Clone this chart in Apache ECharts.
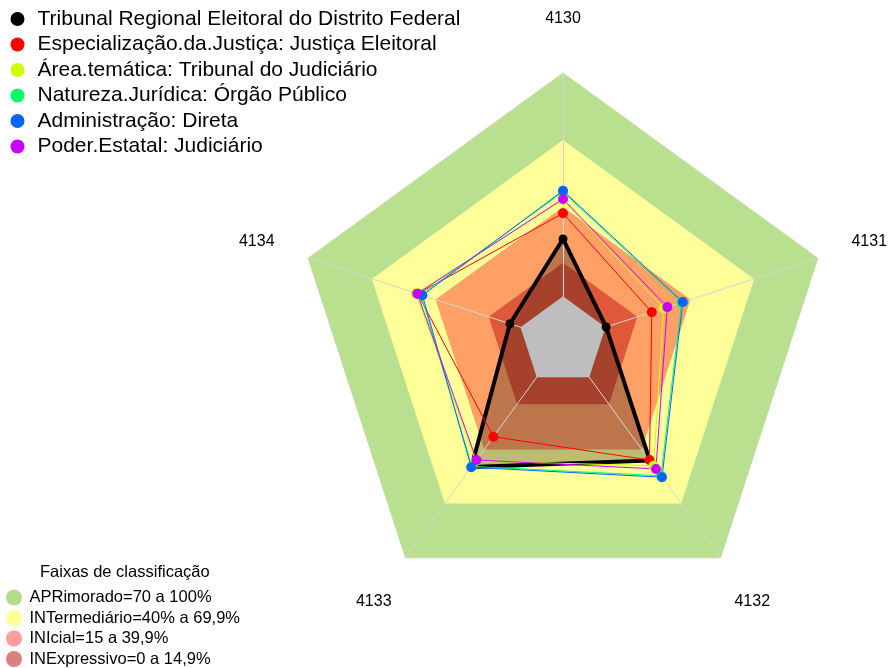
<!DOCTYPE html>
<html>
<head>
<meta charset="utf-8">
<script src="https://cdn.jsdelivr.net/npm/echarts@6/dist/echarts.min.js"></script>
<style>
  html, body { margin: 0; padding: 0; background: #fff; }
  #chart { width: 889px; height: 668px; }
</style>
</head>
<body>
<div id="chart"></div>
<script>
// indicadores no sentido horário, a partir do topo
const indicadores = ['4130', '4131', '4132', '4133', '4134'];

// séries (valores em %, na ordem dos indicadores)
const nomesSeries = [
  'Tribunal Regional Eleitoral do Distrito Federal',
  'Especialização.da.Justiça: Justiça Eleitoral',
  'Área.temática: Tribunal do Judiciário',
  'Natureza.Jurídica: Órgão Público',
  'Administração: Direta',
  'Poder.Estatal: Judiciário'
];
const coresSeries = ['#000000', '#ff0000', '#ccff00', '#00ff66', '#0066ff', '#cc00ff'];
const tre = [25.7, 0.3, 46.1, 49.8, 5.0];
const especializacao = [37.2, 21.8, 45.9, 33.0, 48.4];
const areaTematica = [43.2, 27.4, 49.0, 46.5, 49.2];
const natureza = [46.8, 35.8, 54.6, 49.4, 46.9];
const administracao = [47.3, 36.4, 55.4, 49.9, 46.2];
const poder = [43.6, 29.1, 50.8, 45.9, 48.6];
const valoresSeries = [tre, especializacao, areaTematica, natureza, administracao, poder];

// faixas de classificação (limite superior de cada faixa)
const faixasNomes = [
  'APRimorado=70 a 100%',
  'INTermediário=40% a 69,9%',
  'INIcial=15 a 39,9%',
  'INExpressivo=0 a 14,9%'
];
const faixasLimites = [100, 70, 40, 15];
const faixasCores = ['#b9e08e', '#ffff99', '#ffa066', '#e0583a'];
const faixasCoresLegenda = ['#b3dd8a', '#ffff99', '#ff9c9c', '#d98080'];
const limiteCentro = 0;
const eixoMin = -20;
const eixoMax = 100;

// echarts desenha os eixos no sentido anti-horário
const ordem = [0, 4, 3, 2, 1];
const paraRadar = arr => ordem.map(i => arr[i]);
const constante = v => indicadores.map(() => v);

const chart = echarts.init(document.getElementById('chart'));

const series = [];

// faixas de fundo
faixasLimites.forEach((lim, i) => {
  series.push({
    type: 'radar',
    name: faixasNomes[i],
    z: 1,
    silent: true,
    symbol: 'none',
    color: faixasCoresLegenda[i],
    lineStyle: i === 0 ? { width: 1, color: '#d4d4d4' } : { width: 0, opacity: 0 },
    areaStyle: { color: faixasCores[i], opacity: 1 },
    data: [{ value: paraRadar(constante(lim)) }]
  });
});

// preenchimento translúcido do TRE-DF
series.push({
  type: 'radar',
  name: 'preenchimento',
  z: 2,
  silent: true,
  symbol: 'none',
  lineStyle: { width: 0, opacity: 0 },
  areaStyle: { color: 'rgba(0,0,0,0.26)', opacity: 1 },
  data: [{ value: paraRadar(tre) }]
});

// miolo cinza (abaixo de zero)
series.push({
  type: 'radar',
  name: 'centro',
  z: 4,
  silent: true,
  symbol: 'none',
  lineStyle: { width: 0, opacity: 0 },
  areaStyle: { color: '#bebebe', opacity: 1 },
  data: [{ value: paraRadar(constante(limiteCentro)) }]
});

// linhas das séries
valoresSeries.forEach((vals, i) => {
  series.push({
    type: 'radar',
    name: nomesSeries[i],
    z: 5,
    color: coresSeries[i],
    symbol: 'circle',
    symbolSize: i === 0 ? 9 : 10,
    lineStyle: { width: i === 0 ? 4 : 1, color: coresSeries[i] },
    itemStyle: { color: coresSeries[i], borderWidth: 0 },
    data: [{ value: paraRadar(vals) }]
  });
});

const option = {
  animation: false,
  title: {
    text: 'Faixas de classificação',
    left: 40,
    top: 564,
    padding: 0,
    textStyle: { fontFamily: 'Liberation Sans', fontSize: 16.5, fontWeight: 'normal', color: '#000' }
  },
  legend: [
    {
      data: nomesSeries,
      orient: 'vertical',
      left: 10.5,
      top: 8.5,
      padding: 0,
      itemGap: 4.5,
      itemWidth: 30,
      itemHeight: 14,
      icon: 'circle',
      selectedMode: false,
      textStyle: { fontFamily: 'Liberation Sans', fontSize: 21, color: '#000' }
    },
    {
      data: faixasNomes.map((n, i) => ({ name: n, itemStyle: { color: faixasCoresLegenda[i] } })),
      orient: 'vertical',
      left: 6,
      top: 589,
      padding: 0,
      itemGap: 3.5,
      itemWidth: 21,
      itemHeight: 16,
      icon: 'circle',
      selectedMode: false,
      textStyle: { fontFamily: 'Liberation Sans', fontSize: 16.5, color: '#000' }
    }
  ],
  radar: {
    z: 3,
    center: [563, 341],
    radius: 268,
    shape: 'polygon',
    startAngle: 90,
    indicator: paraRadar(indicadores).map(n => ({ name: n, min: eixoMin, max: eixoMax })),
    nameGap: 54,
    axisName: {
      color: '#000',
      fontFamily: 'Liberation Sans',
      fontSize: 16,
      align: 'center',
      verticalAlign: 'middle'
    },
    axisLine: { show: true, lineStyle: { color: '#d6d6d6', width: 1 } },
    splitLine: { show: false },
    splitArea: { show: false },
    axisTick: { show: false },
    axisLabel: { show: false }
  },
  series: series
};

chart.setOption(option);
</script>
</body>
</html>
